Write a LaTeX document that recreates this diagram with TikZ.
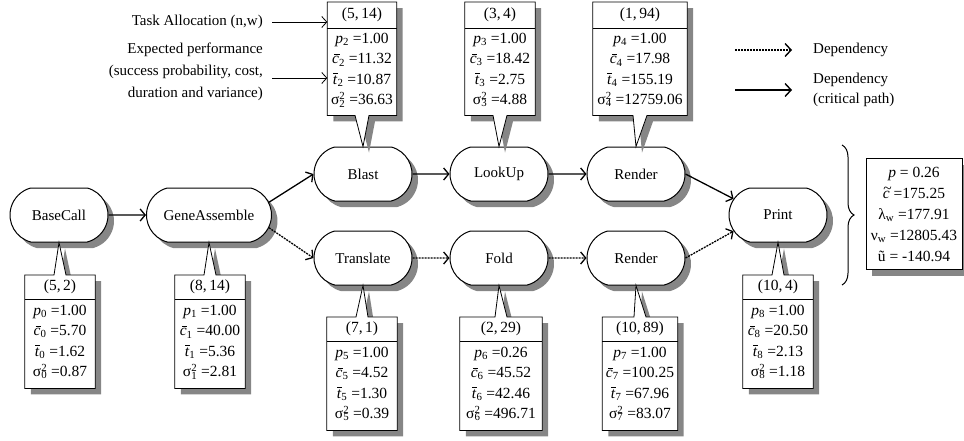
\documentclass[tikz,border=0pt]{standalone}
\usepackage{fontspec}
\setmainfont{Liberation Serif}
\usetikzlibrary{shapes.misc,shadows,arrows.meta,decorations.pathreplacing,calc}
\definecolor{shadegray}{HTML}{868686}
\newcommand\sgm[1]{σ\rlap{\textsuperscript{2}}\textsubscript{#1}}
\newcommand\pnum[1]{\textit{p}\textsubscript{#1}}
\newcommand\cbar[1]{\textit{c}\llap{\rule[0.6em]{0.36em}{0.055em}\hspace{-0.04em}}\textsubscript{#1}}
\newcommand\tbar[1]{\textit{t}\llap{\rule[0.7em]{0.3em}{0.055em}\hspace{-0.02em}}\textsubscript{#1}}
\newcommand\perf[5]{\pnum{#1} =#2\\\cbar{#1} =#3\\\tbar{#1} =#4\\\sgm{#1} =#5}
% top callout: name, position, width, header, body, target
\newcommand\calltop[6]{%
 \node[cframe, minimum width=#3, anchor=north] (#1) at #2 {};
 \fill[shadegray, transform canvas={shift={(6pt,-6pt)}}] (#1.north west) -- (#1.north east) -- (#1.south east) -- ([xshift=7pt]#1.south) -- (#6.north) -- ([xshift=-7pt]#1.south) -- (#1.south west) -- cycle;
 \filldraw[boxline] (#1.north west) -- (#1.north east) -- (#1.south east) -- ([xshift=7pt]#1.south) -- (#6.north) -- ([xshift=-7pt]#1.south) -- (#1.south west) -- cycle;
 \draw[boxline] ([yshift=-26pt]#1.north west) -- ([yshift=-26pt]#1.north east);
 \node[ctext] (#1h) at ([yshift=-13pt]#1.north) {#4};
 \node[ctext] (#1b) at ([yshift=-68pt]#1.north) {#5};
}
% bottom callout
\newcommand\callbot[6]{%
 \node[cframe, minimum width=#3, anchor=north] (#1) at #2 {};
 \fill[shadegray, transform canvas={shift={(6pt,-6pt)}}] (#1.north west) -- ([xshift=-6pt]#1.north) -- (#6.south) -- ([xshift=6pt]#1.north) -- (#1.north east) -- (#1.south east) -- (#1.south west) -- cycle;
 \filldraw[boxline] (#1.north west) -- ([xshift=-6pt]#1.north) -- (#6.south) -- ([xshift=6pt]#1.north) -- (#1.north east) -- (#1.south east) -- (#1.south west) -- cycle;
 \draw[boxline] ([yshift=-24pt]#1.north west) -- ([yshift=-24pt]#1.north east);
 \node[ctext] (#1h) at ([yshift=-12pt]#1.north) {#4};
 \node[ctext] (#1b) at ([yshift=-67pt]#1.north) {#5};
}
\begin{document}
\begin{tikzpicture}[x=1pt,y=-1pt,
  font=\fontsize{15}{20.5}\selectfont,
  task/.style={rounded rectangle, rounded rectangle arc length=150, draw, line width=1pt, fill=white,
    minimum width=98pt, minimum height=54pt, inner sep=0pt,
    drop shadow={shadow xshift=6pt, shadow yshift=-6pt, fill=shadegray, opacity=1}},
  cframe/.style={rectangle, minimum height=113pt, inner sep=0pt, draw=none},
  boxline/.style={draw=black, fill=white, line width=0.8pt},
  ctext/.style={align=center, inner sep=0pt, font=\fontsize{15.5}{20.5}\selectfont},
  crit/.style={-{Straight Barb[length=5pt,width=12pt]}, line width=1.3pt},
  dep/.style={crit, dash pattern=on 2pt off 1pt},
  lab/.style={-{Straight Barb[length=5pt,width=11pt]}, line width=0.8pt},
  legsolid/.style={-{Straight Barb[length=6pt,width=13pt]}, line width=1.4pt},
  legdep/.style={legsolid, dash pattern=on 2pt off 1pt}]
\useasboundingbox (0,0) rectangle (964,440);

% task nodes
\node[task] (base) at (59,215) {BaseCall};
\node[task, minimum width=125pt] (ga) at (209,215) {GeneAssemble};
\node[task] (blast) at (363,174) {Blast};
\node[task] (lookup) at (499,174) {LookUp};
\node[task] (render1) at (636,174) {Render};
\node[task] (translate) at (363,258) {Translate};
\node[task] (fold) at (499,258) {Fold};
\node[task] (render2) at (636,258) {Render};
\node[task] (print) at (778,215) {Print};

% top callouts
\calltop{c2}{(362,2)}{69pt}{(5,\,14)}{\perf{2}{1.00}{11.32}{10.87}{36.63}}{blast}
\calltop{c3}{(500,2)}{70pt}{(3,\,4)}{\perf{3}{1.00}{18.42}{2.75}{4.88}}{lookup}
\calltop{c4}{(640,2)}{94pt}{(1,\,94)}{\perf{4}{1.00}{17.98}{155.19}{12759.06}}{render1}

% bottom callouts
\callbot{c0}{(60,275)}{70pt}{(5,\,2)}{\perf{0}{1.00}{5.70}{1.62}{0.87}}{base}
\callbot{c1}{(210,275)}{70pt}{(8,\,14)}{\perf{1}{1.00}{40.00}{5.36}{2.81}}{ga}
\callbot{c5}{(362,317)}{70pt}{(7,\,1)}{\perf{5}{1.00}{4.52}{1.30}{0.39}}{translate}
\callbot{c6}{(501,317)}{82pt}{(2,\,29)}{\perf{6}{0.26}{45.52}{42.46}{496.71}}{fold}
\callbot{c7}{(640,317)}{75pt}{(10,\,89)}{\perf{7}{1.00}{100.25}{67.96}{83.07}}{render2}
\callbot{c8}{(778,275)}{70pt}{(10,\,4)}{\perf{8}{1.00}{20.50}{2.13}{1.18}}{print}

% connectors
\draw[crit] (base) -- (ga);
\draw[crit] (ga.12) -- (blast.west);
\draw[dep] (ga.-12) -- (translate.west);
\draw[crit] (blast) -- (lookup);
\draw[crit] (lookup) -- (render1);
\draw[crit] (render1.east) -- (print.160);
\draw[dep] (translate) -- (fold);
\draw[dep] (fold) -- (render2);
\draw[dep] (render2.east) -- (print.200);

% left labels
\node[anchor=east, inner sep=0pt] (lta) at (263,22) {Task Allocation (n,w)};
\draw[lab] ([xshift=9pt]lta.east) -- (lta.east -| c2.west);
\node[anchor=east, align=right, inner sep=0pt, font=\fontsize{15}{22}\selectfont] (lep) at (263,72) {Expected performance\\(success probability, cost,\\duration and variance)};
\coordinate (lepa) at ([xshift=9pt,yshift=-6pt]lep.east);
\draw[lab] (lepa) -- (lepa -| c2.west);

% legend
\coordinate (ld1) at (735,50);
\coordinate (ld2) at (792,50);
\coordinate (ls1) at (735,90);
\coordinate (ls2) at (792,90);
\draw[legdep] (ld1) -- (ld2);
\draw[legsolid] (ls1) -- (ls2);
\node[anchor=west, inner sep=0pt] (legt1) at (813,50) {Dependency};
\node[anchor=west, align=left, inner sep=0pt] (legt2) at (813,90) {Dependency\\(critical path)};

% brace and summary
\coordinate (bt) at (842,145);
\coordinate (bb) at (842,285);
\draw[decorate, decoration={brace, amplitude=12pt}, line width=1pt] (bt) -- (bb);
\node[draw, fill=white, line width=0.8pt, minimum width=96pt, minimum height=111pt, inner sep=0pt,
  align=center, font=\fontsize{15.5}{21}\selectfont,
  drop shadow={shadow xshift=6pt, shadow yshift=-6pt, fill=shadegray, opacity=1}] (sum) at (914,214)
  {\textit{p} = 0.26\\\textit{c}\llap{\raisebox{0.28em}{\textasciitilde}\hspace{-0.12em}}\ =175.25\\λ\textsubscript{w} =177.91\\ν\textsubscript{w} =12805.43\\\~{u} = -140.94};
\end{tikzpicture}
\end{document}
